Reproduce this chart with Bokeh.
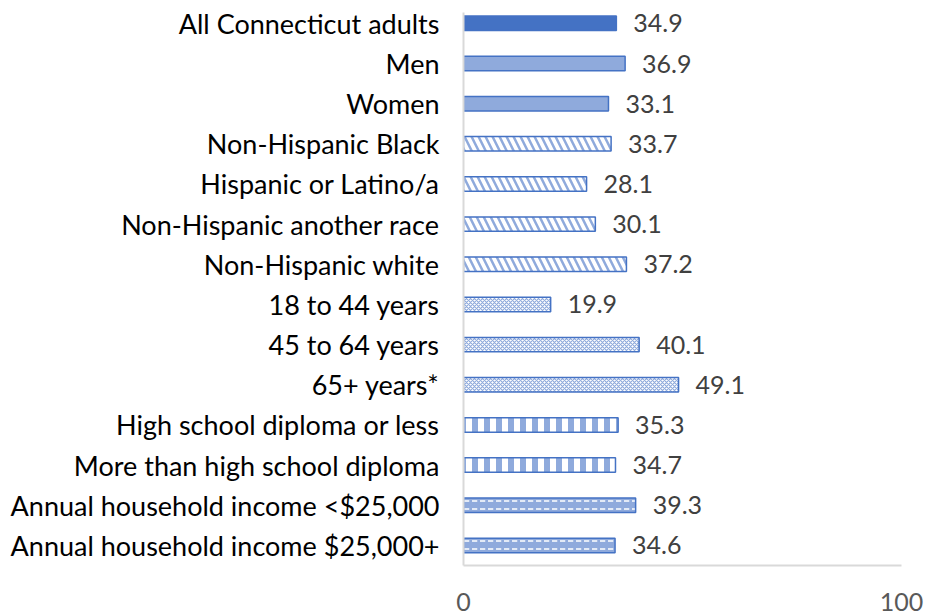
import numpy as np
from bokeh.plotting import figure
from bokeh.models import Range1d, FixedTicker, ColumnDataSource
from bokeh.core.properties import value
from bokeh.embed import file_html
from bokeh.resources import INLINE

categories = [
    "All Connecticut adults",
    "Men",
    "Women",
    "Non-Hispanic Black",
    "Hispanic or Latino/a",
    "Non-Hispanic another race",
    "Non-Hispanic white",
    "18 to 44 years",
    "45 to 64 years",
    "65+ years*",
    "High school diploma or less",
    "More than high school diploma",
    "Annual household income <$25,000",
    "Annual household income $25,000+",
]
values = [34.9, 36.9, 33.1, 33.7, 28.1, 30.1, 37.2, 19.9, 40.1, 49.1, 35.3, 34.7, 39.3, 34.6]
groups = ["all", "sex", "sex", "race", "race", "race", "race",
          "age", "age", "age", "edu", "edu", "inc", "inc"]
x_ticks = [0, 100]

DARK = "#4472C4"
LIGHT = "#8FAADC"
FONT = "Lato"

styles = {
    "all": dict(fill_color=DARK),
    "sex": dict(fill_color=LIGHT),
    "race": dict(fill_color="white", hatch_pattern="left_diagonal_line", hatch_color=LIGHT,
                 hatch_weight=2.5, hatch_scale=14),
    "age": dict(fill_color="white", hatch_pattern="diagonal_cross", hatch_color=LIGHT,
                hatch_weight=1.2, hatch_scale=4),
    "edu": dict(fill_color="white", hatch_pattern="vertical_line", hatch_color=LIGHT,
                hatch_weight=6, hatch_scale=12),
    "inc": dict(fill_color=LIGHT, hatch_pattern="horizontal_dash", hatch_color="white",
                hatch_weight=1.5, hatch_scale=8),
}

ypos = np.arange(len(categories))

p = figure(width=935, height=616, output_backend="svg", toolbar_location=None,
           x_range=Range1d(0, 100), y_range=Range1d(13.5, -0.27),
           min_border_left=463, min_border_right=34, min_border_top=12, min_border_bottom=51)
p.outline_line_color = None
p.xgrid.visible = False
p.ygrid.visible = False
p.background_fill_color = "white"
p.border_fill_color = "white"

for g in ["all", "sex", "race", "age", "edu", "inc"]:
    idx = [i for i, gg in enumerate(groups) if gg == g]
    src = ColumnDataSource(dict(y=[ypos[i] for i in idx], v=[values[i] for i in idx]))
    p.hbar(y="y", right="v", left=0, height=0.36, source=src, line_color=DARK,
           line_width=1.5, **styles[g])

lab_src = ColumnDataSource(dict(x=values, y=ypos, t=[f"{v:.1f}" for v in values]))
p.text(x="x", y="y", text="t", source=lab_src, x_offset=17, text_align="left",
       text_baseline="middle", text_font=value(FONT), text_font_size="25px", text_color="#404040")

yax = p.yaxis[0]
yax.ticker = FixedTicker(ticks=list(ypos))
yax.major_label_overrides = {int(i): c for i, c in zip(ypos, categories)}
yax.major_label_text_font = FONT
yax.major_label_text_font_size = "27px"
yax.major_label_text_color = "black"
yax.major_label_standoff = 18
yax.major_tick_line_color = None
yax.minor_tick_line_color = None
yax.axis_line_color = "#D9D9D9"
yax.axis_line_width = 2

xax = p.xaxis[0]
xax.ticker = FixedTicker(ticks=x_ticks)
xax.major_label_text_font = FONT
xax.major_label_text_font_size = "25px"
xax.major_label_text_color = "#595959"
xax.major_label_standoff = 21
xax.major_tick_line_color = None
xax.minor_tick_line_color = None
xax.axis_line_color = "#D9D9D9"
xax.axis_line_width = 2

open("out.html", "w").write(file_html(p, INLINE))
